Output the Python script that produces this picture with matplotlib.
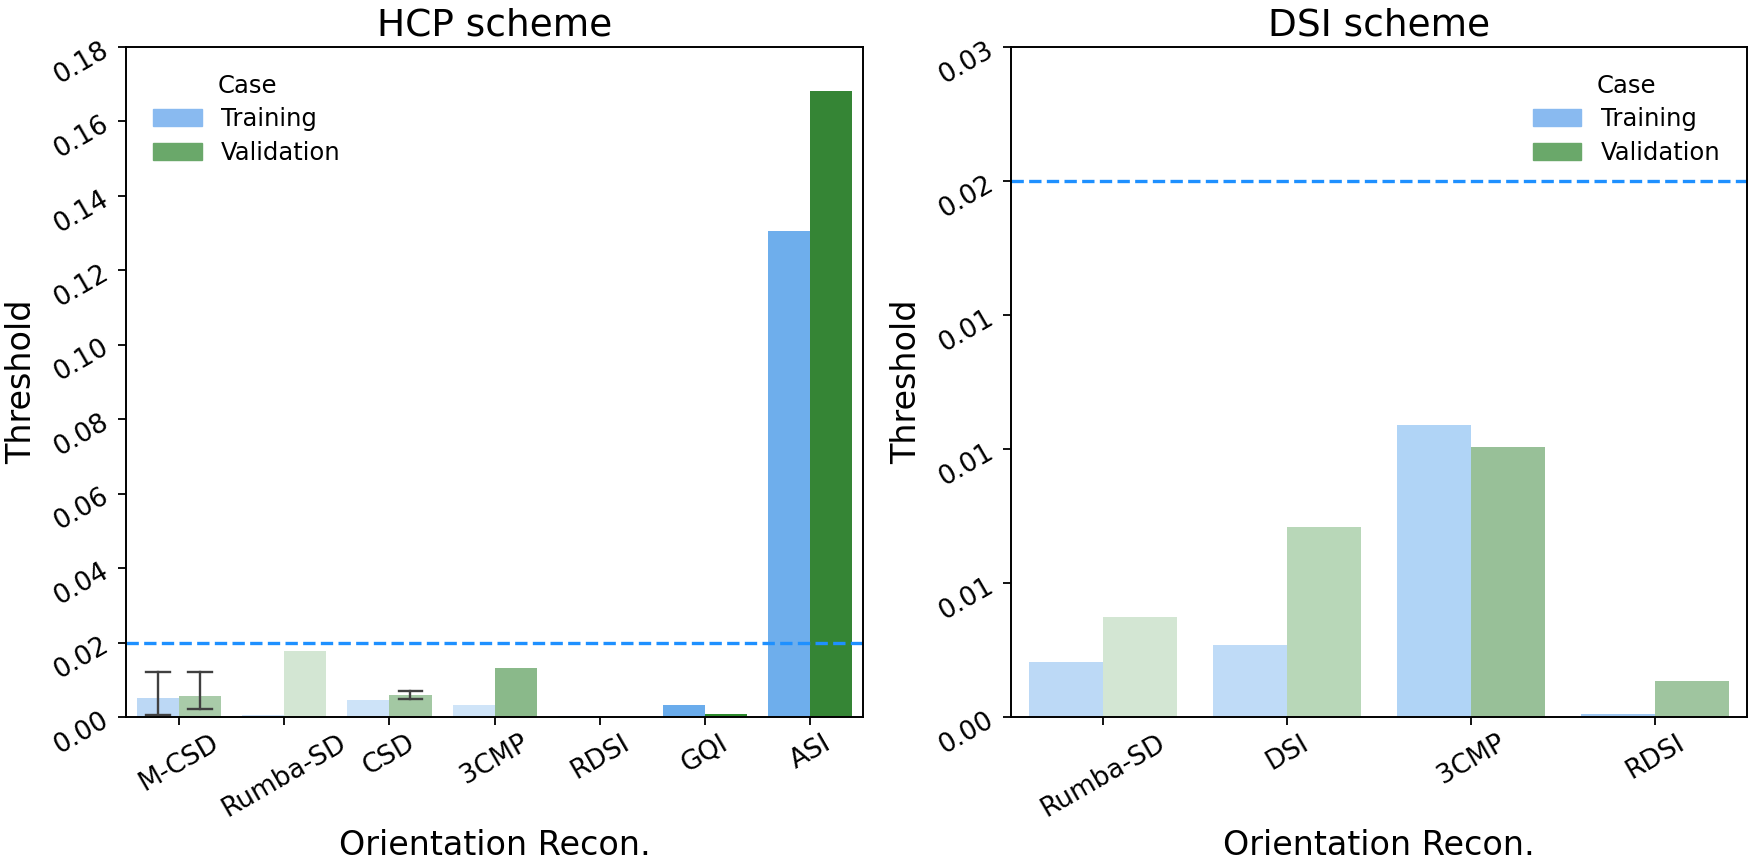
import matplotlib
matplotlib.use("Agg")
import matplotlib.pyplot as plt
import numpy as np
from matplotlib.patches import Patch

# HCP scheme
hcp_methods = ["M-CSD", "Rumba-SD", "CSD", "3CMP", "RDSI", "GQI", "ASI"]
hcp_training = [0.0052, 0.0005, 0.0046, 0.0033, 0.0002, 0.0033, 0.1307]
hcp_validation = [0.0056, 0.0177, 0.0058, 0.0132, 0.0001, 0.0007, 0.1681]
# error bars (low, high); None where no bar is drawn
hcp_training_err = [(0.0005, 0.0122), None, None, None, None, None, None]
hcp_validation_err = [(0.0021, 0.0122), None, (0.0049, 0.0070), None, None, None, None]

# DSI scheme
dsi_methods = ["Rumba-SD", "DSI", "3CMP", "RDSI"]
dsi_training = [0.00206, 0.00267, 0.01088, 0.0001]
dsi_validation = [0.00374, 0.00708, 0.01006, 0.00136]

threshold = 0.02

# per-bar colours (shaded as in the original)
hcp_training_colors = ["#bcd8f5", "#cfe3f8", "#cde3f8", "#cfe4f8", "#2a6fb8", "#6aacec", "#6eaeec"]
hcp_validation_colors = ["#a9cba9", "#d3e6d3", "#a3c8a3", "#8ab98a", "#2e7d2e", "#2e8b2e", "#358535"]
dsi_training_colors = ["#bcd9f6", "#bfdbf7", "#b0d4f6", "#9fc8f2"]
dsi_validation_colors = ["#d3e6d3", "#b8d7b8", "#98c098", "#9fc59f"]

legend_colors = ["#89baf0", "#6aa86a"]

plt.rcParams["font.family"] = "DejaVu Sans"

fig = plt.figure(figsize=(17.51, 8.64), dpi=100)
ax1 = fig.add_axes([0.0722, 0.1701, 0.4206, 0.7755])
ax2 = fig.add_axes([0.5774, 0.1701, 0.4203, 0.7755])

TICK_FS = 19


def draw(ax, methods, train, val, tcols, vcols, ylim, title, legend_loc,
         terr=None, verr=None):
    x = np.arange(len(methods))
    w = 0.4
    ax.bar(x - w / 2, train, w, color=tcols, edgecolor="none")
    ax.bar(x + w / 2, val, w, color=vcols, edgecolor="none")
    for errs, off in ((terr, -w / 2), (verr, w / 2)):
        if errs is None:
            continue
        for i, e in enumerate(errs):
            if e is None:
                continue
            ax.plot([x[i] + off] * 2, e, color="#404040", lw=1.7)
            for yv in e:
                ax.plot([x[i] + off - 0.11, x[i] + off + 0.11], [yv, yv],
                        color="#404040", lw=1.7)
    ax.axhline(threshold, color="#1e90ff", ls="--", lw=2.4)
    ax.set_xlim(-0.5, len(methods) - 0.5)
    ax.set_ylim(*ylim)
    ax.set_xticks(x)
    ax.set_xticklabels(methods, rotation=30, ha="center", fontsize=TICK_FS)
    ax.yaxis.set_major_formatter(matplotlib.ticker.FormatStrFormatter("%.2f"))
    ax.tick_params(direction="out", length=6, width=1.3)
    for s in ax.spines.values():
        s.set_linewidth(1.4)
    ax.set_xlabel("Orientation Recon.", fontsize=24, labelpad=5)
    ax.set_ylabel("Threshold", fontsize=24, labelpad=8)
    ax.set_title(title, fontsize=27, pad=8)
    handles = [Patch(color=legend_colors[0], label="Training"),
               Patch(color=legend_colors[1], label="Validation")]
    ax.legend(handles=handles, title="Case", loc=legend_loc, frameon=False,
              fontsize=17.5, title_fontsize=17.5, borderpad=0.6,
              labelspacing=0.4)


draw(ax1, hcp_methods, hcp_training, hcp_validation, hcp_training_colors,
     hcp_validation_colors, (0, 0.18), "HCP scheme", "upper left",
     hcp_training_err, hcp_validation_err)
ax1.set_yticks(np.arange(0, 0.181, 0.02))
for lab in ax1.get_yticklabels():
    lab.set_rotation(30)
    lab.set_fontsize(TICK_FS)

draw(ax2, dsi_methods, dsi_training, dsi_validation, dsi_training_colors,
     dsi_validation_colors, (0, 0.025), "DSI scheme", "upper right")
ax2.set_yticks([0, 0.005, 0.01, 0.015, 0.02, 0.025])
ax2.set_yticklabels(["0.00", "0.01", "0.01", "0.01", "0.02", "0.03"],
                    rotation=30, fontsize=TICK_FS)

fig.savefig("out.png", dpi=100)
